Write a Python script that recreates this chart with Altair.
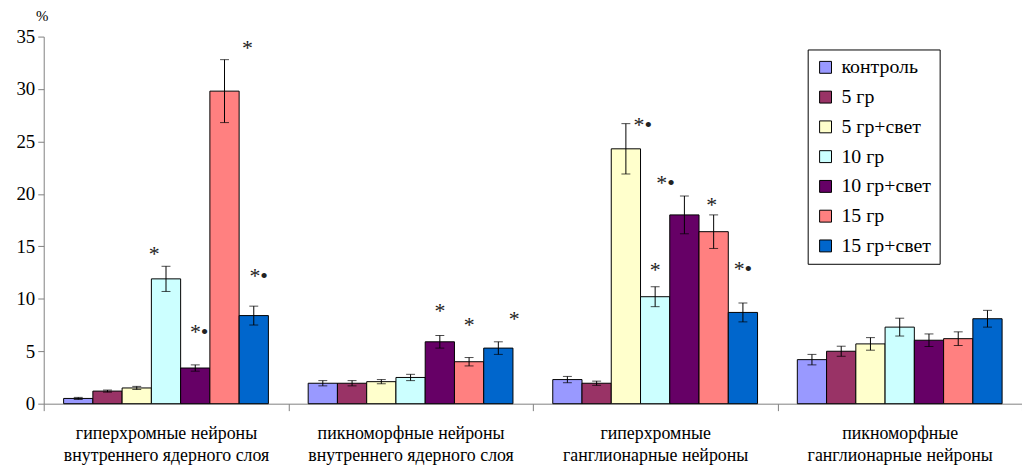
import altair as alt
import pandas as pd

categories = [
    "гиперхромные нейроны|внутреннего ядерного слоя",
    "пикноморфные нейроны|внутреннего ядерного слоя",
    "гиперхромные|ганглионарные нейроны",
    "пикноморфные|ганглионарные нейроны",
]
series = ["контроль", "5 гр", "5 гр+свет", "10 гр", "10 гр+свет", "15 гр", "15 гр+свет"]
colors = ["#9999FF", "#993366", "#FFFFCC", "#CCFFFF", "#660066", "#FF8080", "#0066CC"]

# values[category][series]
values = [
    [0.5, 1.2, 1.5, 11.9, 3.4, 29.8, 8.4],
    [1.95, 1.95, 2.1, 2.5, 5.9, 4.0, 5.3],
    [2.3, 1.95, 24.3, 10.2, 18.0, 16.4, 8.7],
    [4.2, 5.0, 5.7, 7.3, 6.05, 6.2, 8.1],
]
errors = [
    [0.1, 0.1, 0.15, 1.2, 0.3, 3.0, 0.9],
    [0.25, 0.25, 0.2, 0.3, 0.6, 0.4, 0.6],
    [0.3, 0.2, 2.4, 0.95, 1.8, 1.6, 0.9],
    [0.5, 0.48, 0.6, 0.85, 0.6, 0.65, 0.8],
]

# significance marks: (category index, series index, label, label height in %)
ann_cat = [0, 0, 0, 0, 1, 1, 1, 2, 2, 2, 2, 2]
ann_ser = [3, 4, 5, 6, 4, 5, 6, 2, 3, 4, 5, 6]
ann_txt = ["*", "*•", "*", "*•", "*", "*", "*", "*•", "*", "*•", "*", "*•"]
ann_y = [14.3, 6.8, 33.9, 12.2, 8.8, 7.5, 8.1, 26.6, 12.7, 21.0, 18.9, 12.8]
ann_dx = [-12, 4, 23, 5, 0, 0, 16, 17, 0, -19, -2, 0]

rows = []
for ci, c in enumerate(categories):
    for si, s in enumerate(series):
        v = values[ci][si]
        e = errors[ci][si]
        rows.append({"cat": c, "ser": s, "v": v, "lo": v - e, "hi": v + e})
df = pd.DataFrame(rows)

FONT = "Liberation Serif"

xenc = alt.X("cat:N", sort=categories, title=None,
             scale=alt.Scale(paddingInner=0, paddingOuter=0),
             axis=alt.Axis(labelExpr="split(datum.label, '|')", labelAngle=0, labelLimit=0,
                           tickBand="extent", domainColor="#808080", tickColor="#808080",
                           tickSize=7, labelPadding=14, labelFont=FONT, labelFontSize=18,
                           labelColor="black", labelLineHeight=22))
xoff = alt.XOffset("ser:N", sort=series, scale=alt.Scale(paddingInner=0, paddingOuter=0.68))
yscale = alt.Scale(domain=[0, 35], nice=False)

bars = alt.Chart(df).mark_bar(stroke="black", strokeWidth=1).encode(
    x=xenc,
    xOffset=xoff,
    y=alt.Y("v:Q", scale=yscale,
            axis=alt.Axis(values=[0, 5, 10, 15, 20, 25, 30, 35], grid=False,
                          domainColor="#808080", tickColor="#808080", tickSize=6,
                          labelFont=FONT, labelFontSize=19, labelColor="black", labelPadding=3,
                          title="%", titleAngle=0, titleX=-2, titleY=-21, titleAlign="center",
                          titleBaseline="middle", titleFont=FONT, titleFontSize=15,
                          titleFontWeight="normal", titleColor="black")),
    fill=alt.Fill("ser:N", sort=series, scale=alt.Scale(domain=series, range=colors),
                  legend=alt.Legend(title=None, orient="none", legendX=770, legendY=13,
                                    strokeColor="black", fillColor="white", padding=8,
                                    symbolType="square", symbolSize=144,
                                    symbolStrokeColor="black", symbolStrokeWidth=1,
                                    labelFont=FONT, labelFontSize=20, labelColor="black",
                                    rowPadding=10, labelOffset=6)),
)

err = alt.Chart(df).mark_rule(color="black", strokeWidth=1).encode(
    x=alt.X("cat:N", sort=categories), xOffset=xoff, y=alt.Y("lo:Q", scale=yscale), y2="hi:Q")
cap_lo = alt.Chart(df).mark_tick(color="black", thickness=1, size=9).encode(
    x=alt.X("cat:N", sort=categories), xOffset=xoff, y=alt.Y("lo:Q", scale=yscale))
cap_hi = alt.Chart(df).mark_tick(color="black", thickness=1, size=9).encode(
    x=alt.X("cat:N", sort=categories), xOffset=xoff, y=alt.Y("hi:Q", scale=yscale))

layers = [bars, err, cap_lo, cap_hi]
for i in range(len(ann_txt)):
    adf = pd.DataFrame([{"cat": categories[ann_cat[i]], "ser": series[ann_ser[i]],
                         "y": ann_y[i], "t": ann_txt[i]}])
    layers.append(
        alt.Chart(adf).mark_text(font=FONT, fontSize=22, fill="#222222", dx=ann_dx[i],
                                 baseline="middle").encode(
            x=alt.X("cat:N", sort=categories), xOffset=xoff,
            y=alt.Y("y:Q", scale=yscale), text="t:N")
    )

chart = alt.layer(*layers).properties(
    width=986, height=370,
    autosize=alt.AutoSizeParams(type="none"),
    padding={"left": 36, "top": 27, "right": 0, "bottom": 62},
).configure_view(stroke=None).configure_axis(domainWidth=1)

chart.save("out.html", embed_options={"renderer": "svg", "actions": False})
